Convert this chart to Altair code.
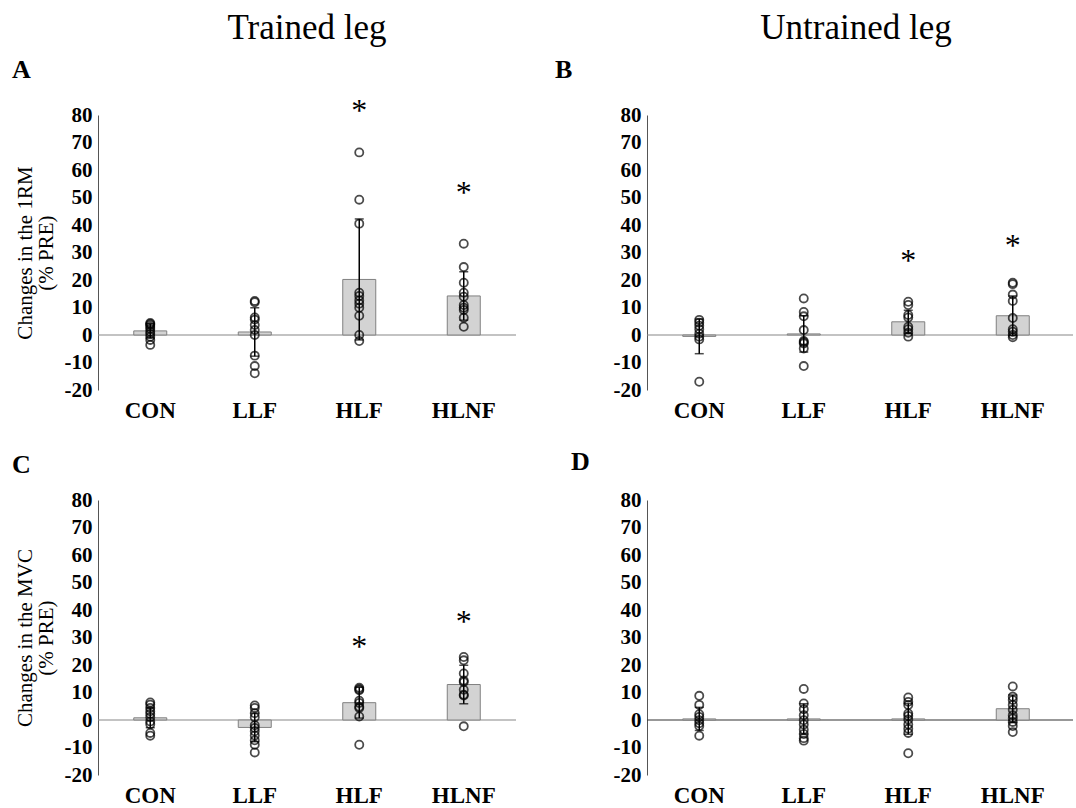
import altair as alt
import pandas as pd

groups = ["CON", "LLF", "HLF", "HLNF"]

# Individual changes (% PRE) per group, trained leg 1RM (A)
a_con = [4.4, 4.0, 3.6, 2.9, 2.2, 1.2, 0.4, -0.6, -1.8, -3.6]
a_llf = [12.4, 11.9, 6.4, 5.6, 3.6, 1.8, 0.0, -7.5, -11.3, -13.9]
a_hlf = [66.4, 49.2, 40.5, 15.4, 14.2, 12.6, 11.4, 9.9, 7.0, 0.0, -2.2]
a_hlnf = [33.2, 24.7, 19.0, 15.4, 13.9, 10.9, 9.9, 9.1, 6.3, 3.0]
a_mean = [1.5, 1.1, 20.2, 14.2]
a_sd = [2.6, 8.8, 22.0, 8.8]
a_star = [83.0, 53.0]

# Untrained leg 1RM (B)
b_con = [5.5, 4.5, 3.4, 2.1, 0.5, -0.6, -1.6, -17.0]
b_llf = [13.3, 8.4, 6.8, 1.8, -2.2, -2.6, -3.1, -4.9, -11.3]
b_hlf = [12.1, 10.9, 7.3, 6.4, 3.0, 2.1, 0.8, -0.6]
b_hlnf = [19.0, 18.5, 14.7, 12.4, 6.2, 2.1, 1.2, 0.0, -0.8]
b_mean = [-0.5, 0.4, 4.8, 7.0]
b_sd = [6.3, 6.6, 4.2, 7.2]
b_star = [28.5, 34.0]

# Trained leg MVC (C)
c_con = [6.4, 5.6, 4.4, 3.2, 2.2, 1.0, -0.5, -1.5, -4.7, -5.7]
c_llf = [5.3, 4.4, 2.5, 1.0, -1.9, -2.9, -4.1, -5.6, -7.4, -9.0, -11.8]
c_hlf = [11.7, 11.2, 10.8, 7.0, 6.2, 4.8, 4.4, 1.3, -9.0]
c_hlnf = [22.9, 21.7, 16.9, 14.4, 13.8, 11.0, 9.2, 8.9, -2.3]
c_mean = [0.8, -2.7, 6.3, 12.9]
c_sd = [3.6, 5.2, 5.6, 7.0]
c_star = [28.0, 37.0]

# Untrained leg MVC (D)
d_con = [8.8, 5.5, 2.1, 1.1, -0.1, -1.2, -2.2, -5.7]
d_llf = [11.3, 6.0, 3.9, 1.7, -0.1, -1.6, -3.5, -5.1, -6.6, -7.5]
d_hlf = [8.2, 6.6, 5.5, 2.4, 1.5, 0.2, -1.6, -3.2, -4.7, -12.1]
d_hlnf = [12.2, 8.5, 7.3, 5.5, 3.7, 1.7, 0.6, -0.7, -2.2, -4.4]
d_mean = [0.4, 0.4, 0.4, 4.1]
d_sd = [4.2, 5.5, 5.6, 5.0]
d_star = []

star_groups = ["HLF", "HLNF"]
y_ticks = list(range(-20, 81, 10))

SERIF = "Liberation Serif"
W, H = 418, 275


def dots_frame(lists):
    rows = []
    for g, vals in zip(groups, lists):
        for v in vals:
            rows.append({"group": g, "value": v})
    return pd.DataFrame(rows)


def summary_frame(means, sds):
    return pd.DataFrame({
        "group": groups,
        "mean": means,
        "lo": [m - s for m, s in zip(means, sds)],
        "hi": [m + s for m, s in zip(means, sds)],
    })


def panel(dot_lists, means, sds, stars, letter, letter_xy, header, ytitle,
          zero_color, zero_len):
    x = alt.X(
        "group:N", sort=groups,
        scale=alt.Scale(domain=groups, paddingInner=0, paddingOuter=0),
        axis=alt.Axis(title="", domain=False, ticks=False, labelAngle=0,
                      labelFont=SERIF, labelFontSize=23, labelFontWeight="bold",
                      labelColor="black", labelPadding=9),
    )
    yscale = alt.Scale(domain=[-20, 80], nice=False, zero=False)
    yaxis = alt.Axis(
        values=y_ticks, grid=False, ticks=False, domainColor="#555555",
        labelExpr="'' + datum.value",
        labelFont=SERIF, labelFontSize=21, labelFontWeight="bold",
        labelColor="black", labelPadding=6,
        title=ytitle, titleFont=SERIF, titleFontSize=21,
        titleFontWeight="normal", titleColor="black",
        titleLineHeight=21, titlePadding=8,
    )

    summ = summary_frame(means, sds)
    base = alt.Chart(summ)

    zero = alt.Chart(pd.DataFrame({"z": [0]})).mark_rule(
        color=zero_color, strokeWidth=1.2
    ).encode(y=alt.Y("z:Q", scale=yscale, axis=yaxis),
             x=alt.value(0), x2=alt.value(zero_len))

    bars = base.mark_bar(size=33, color="#d3d3d3", stroke="#808080",
                         strokeWidth=1).encode(
        x=x, y=alt.Y("mean:Q", scale=yscale, axis=yaxis))

    err = base.mark_rule(color="black", strokeWidth=1.5).encode(
        x=x, y=alt.Y("lo:Q", scale=yscale, axis=yaxis), y2="hi:Q")
    cap_hi = base.mark_tick(color="black", size=9, thickness=1.5).encode(
        x=x, y=alt.Y("hi:Q", scale=yscale, axis=yaxis))
    cap_lo = base.mark_tick(color="black", size=9, thickness=1.5).encode(
        x=x, y=alt.Y("lo:Q", scale=yscale, axis=yaxis))

    dots = alt.Chart(dots_frame(dot_lists)).mark_point(
        shape="circle", filled=False, size=66, stroke="black", strokeWidth=1.8
    ).encode(x=x, y=alt.Y("value:Q", scale=yscale, axis=yaxis))

    layers = [zero, bars, err, cap_hi, cap_lo, dots]

    if stars:
        star_df = pd.DataFrame({"group": star_groups, "pos": stars})
        layers.append(
            alt.Chart(star_df).mark_text(
                text="*", font=SERIF, fontSize=32, color="black",
                baseline="middle", dy=4
            ).encode(x=x, y=alt.Y("pos:Q", scale=yscale, axis=yaxis))
        )

    lx, ly = letter_xy
    layers.append(
        alt.Chart(pd.DataFrame({"k": [0]})).mark_text(
            text=letter, font=SERIF, fontSize=26, fontWeight="bold",
            color="black", align="left", baseline="middle"
        ).encode(x=alt.value(lx), y=alt.value(ly))
    )

    props = dict(width=W, height=H)
    if header:
        props["title"] = alt.TitleParams(
            header, font=SERIF, fontSize=35, fontWeight="normal",
            color="black", anchor="middle", frame="group", offset=11)
    return alt.layer(*layers).properties(**props)


pA = panel([a_con, a_llf, a_hlf, a_hlnf], a_mean, a_sd, a_star, "A", (-86, -45),
           "Trained leg", ["Changes in the 1RM", "(% PRE)"], "#888888", W)
pB = panel([b_con, b_llf, b_hlf, b_hlnf], b_mean, b_sd, b_star, "B", (-92, -45),
           "Untrained leg", "", "#888888", W + 8)
pC = panel([c_con, c_llf, c_hlf, c_hlnf], c_mean, c_sd, c_star, "C", (-86, -35),
           "", ["Changes in the MVC", "(% PRE)"], "#888888", W)
pD = panel([d_con, d_llf, d_hlf, d_hlnf], d_mean, d_sd, d_star, "D", (-76, -38),
           "", "", "#333333", W + 8)

chart = alt.concat(
    pA, pB, pC, pD, columns=2,
    spacing={"row": 110, "column": 131}, bounds="flush",
).properties(
    padding={"left": 11, "top": 10, "right": 0, "bottom": 0},
    background="white",
).configure_view(stroke="transparent")

chart.save("out.html", embed_options={"renderer": "svg", "actions": False})
